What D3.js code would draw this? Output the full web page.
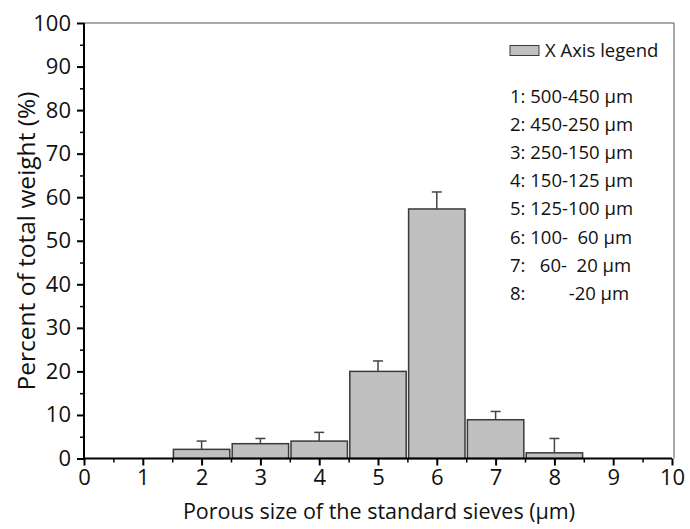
<!DOCTYPE html>
<html>
<head>
<meta charset="utf-8">
<script src="https://cdn.jsdelivr.net/npm/d3@7"></script>
<style>
  html, body { margin: 0; padding: 0; background: #fff; }
  svg { display: block; font-family: "Open Sans", "Lato", sans-serif; }
  .leg { white-space: pre; }
</style>
</head>
<body>
<svg id="chart" width="690" height="529"></svg>
<script>
// ---- data ----
const categories = [1, 2, 3, 4, 5, 6, 7, 8];
const values = [0, 2.1, 3.4, 4.0, 20.0, 57.3, 8.9, 1.3];
const errors = [0, 1.9, 1.2, 2.0, 2.4, 3.9, 1.9, 3.3];
const xTicks = [0, 1, 2, 3, 4, 5, 6, 7, 8, 9, 10];
const yTicks = [0, 10, 20, 30, 40, 50, 60, 70, 80, 90, 100];
const legendTitle = "X Axis legend";
const legendLines = [
  "1: 500-450 \u03bcm",
  "2: 450-250 \u03bcm",
  "3: 250-150 \u03bcm",
  "4: 150-125 \u03bcm",
  "5: 125-100 \u03bcm",
  "6: 100-  60 \u03bcm",
  "7:   60-  20 \u03bcm",
  "8:         -20 \u03bcm"
];
const xTitle = "Porous size of the standard sieves (\u03bcm)";
const yTitle = "Percent of total weight (%)";

// ---- layout ----
const svg = d3.select("#chart");
const L = 84, R = 672, T = 23, B = 458.5;
const x = d3.scaleLinear().domain([0, 10]).range([L, R]);
const y = d3.scaleLinear().domain([0, 100]).range([B, T]);

// frame (top and right)
svg.append("line").attr("x1", L).attr("x2", R + 2).attr("y1", T).attr("y2", T)
  .attr("stroke", "#555").attr("stroke-width", 1);
svg.append("line").attr("x1", R + 2).attr("x2", R + 2).attr("y1", T).attr("y2", B)
  .attr("stroke", "#555").attr("stroke-width", 1);

// bars
const bw = x(1) - x(0);
svg.append("g").selectAll("rect").data(categories.map((c, i) => ({c, v: values[i], e: errors[i]})).filter(d => d.v > 0))
  .join("rect")
  .attr("x", d => x(d.c - 0.5) + 1.2)
  .attr("width", bw - 2.4)
  .attr("y", d => y(d.v))
  .attr("height", d => y(0) - y(d.v))
  .attr("fill", "#c0c0c0")
  .attr("stroke", "#3a3a3a")
  .attr("stroke-width", 1.5);

// error bars (upper only)
const eg = svg.append("g").attr("stroke", "#444").attr("stroke-width", 1.5);
categories.forEach((c, i) => {
  if (errors[i] <= 0) return;
  eg.append("line").attr("x1", x(c)).attr("x2", x(c)).attr("y1", y(values[i])).attr("y2", y(values[i] + errors[i]));
  eg.append("line").attr("x1", x(c) - 5).attr("x2", x(c) + 5).attr("y1", y(values[i] + errors[i])).attr("y2", y(values[i] + errors[i]));
});

// x axis
const xAxis = svg.append("g").attr("transform", `translate(0,${B})`)
  .call(d3.axisBottom(x).tickValues(xTicks).tickFormat(d3.format("d")).tickSize(7).tickPadding(4));
xAxis.select(".domain").attr("stroke", "#000").attr("stroke-width", 2).attr("d", `M${L},0H${R}`);
xAxis.selectAll(".tick line").attr("stroke-width", 2);
xAxis.selectAll("text").attr("font-size", 22).attr("fill", "#111").attr("font-family", "Open Sans");
svg.append("g").attr("transform", `translate(0,${B})`)
  .call(d3.axisBottom(x).tickValues(d3.range(0.5, 10, 1)).tickFormat("").tickSize(4))
  .call(g => g.select(".domain").remove())
  .selectAll(".tick line").attr("stroke-width", 1.5);

// y axis
const yAxis = svg.append("g").attr("transform", `translate(${L},0)`)
  .call(d3.axisLeft(y).tickValues(yTicks).tickFormat(d3.format("d")).tickSize(7).tickPadding(6));
yAxis.select(".domain").attr("stroke", "#000").attr("stroke-width", 2).attr("d", `M0,${B}V${T}`);
yAxis.selectAll(".tick line").attr("stroke-width", 2);
yAxis.selectAll("text").attr("font-size", 22).attr("fill", "#111").attr("font-family", "Open Sans");
svg.append("g").attr("transform", `translate(${L},0)`)
  .call(d3.axisLeft(y).tickValues(d3.range(5, 100, 10)).tickFormat("").tickSize(4))
  .call(g => g.select(".domain").remove())
  .selectAll(".tick line").attr("stroke-width", 1.5);

// axis titles
svg.append("text").attr("x", 379).attr("y", 519).attr("text-anchor", "middle")
  .attr("font-size", 21.5).attr("fill", "#111").text(xTitle);
svg.append("text").attr("transform", `translate(35,241) rotate(-90)`).attr("text-anchor", "middle")
  .attr("font-size", 24.5).attr("fill", "#111").text(yTitle);

// legend
svg.append("rect").attr("x", 510).attr("y", 45.5).attr("width", 29).attr("height", 10)
  .attr("fill", "#c0c0c0").attr("stroke", "#3a3a3a").attr("stroke-width", 1);
svg.append("text").attr("x", 545).attr("y", 57).attr("font-size", 18.5).attr("fill", "#111").text(legendTitle);
svg.append("g").selectAll("text").data(legendLines).join("text")
  .attr("class", "leg")
  .attr("x", 510)
  .attr("y", (d, i) => 102.5 + i * 28.2)
  .attr("font-size", 18.5).attr("fill", "#111")
  .text(d => d);
</script>
</body>
</html>
